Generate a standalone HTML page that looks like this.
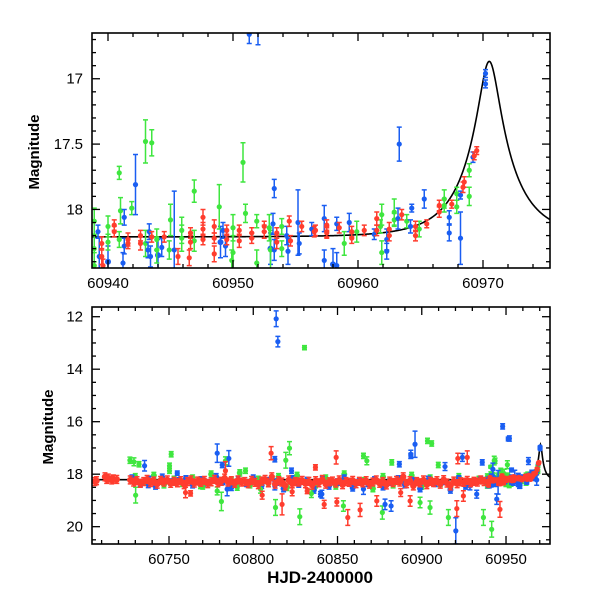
<!DOCTYPE html>
<html><head><meta charset="utf-8"><style>
html,body{margin:0;padding:0;background:#fff;}
svg{display:block;}
text{font-family:"Liberation Sans",sans-serif;}
</style></head><body>
<svg id="chart" width="600" height="600" viewBox="0 0 600 600" xmlns="http://www.w3.org/2000/svg">
<defs>
<clipPath id="clipTop"><rect x="92" y="33" width="458" height="235"/></clipPath>
<clipPath id="clipBot"><rect x="92" y="307" width="458" height="237"/></clipPath>
</defs>
</svg>
<script>
// ---- data ----
const redT=[60940.5,60940.5,60941.6,60941.6,60942.6,60942.6,60943.5,60944.5,60946.6,60946.6,60947.6,60947.6,60947.6,60948.5,60948.5,60948.5,60949.5,60949.5,60950.5,60950.5,60951.5,60951.5,60952.5,60952.5,60953.5,60953.5,60954.5,60954.6,60955.5,60956.6,60957.5,60939.5,60939.5,60939.6,60945.6,60946.5,
60969.5,60969.3,60968.5,60968.4,60967.5,60966.5,60966.5,60965.5,60964.6,60964.6,60963.5,60962.5,60962.5,60961.5,60961.5,60960.5,60959.5,60959.5,60958.5,60957.5,60957.5,60956.5,
60810.6,60817.1,60759.8,60762.8,60805.3,60823.1,60832.0,60783.5,60836.9,60849.2,60927.0,60921.4,60856.1,60863.4,60842.1,60849.6,60893.1,60920.8,60924.7,60946.4,60873.3,60887.5];
const redM=[18.12,18.17,18.23,18.26,18.20,18.26,18.21,18.21,18.18,18.25,18.06,18.15,18.23,18.13,18.22,18.34,18.16,18.23,18.16,18.24,18.18,18.22,18.13,18.17,18.18,18.25,18.09,18.24,18.13,18.16,18.17,18.26,18.36,18.43,18.36,18.37,
17.55,17.59,17.79,17.83,17.96,17.97,18.02,18.11,18.13,18.20,18.04,18.15,18.20,18.07,18.16,18.16,18.17,18.22,18.14,18.12,18.18,18.17,
17.20,19.15,18.70,18.73,18.80,18.67,18.64,17.87,17.74,17.36,17.36,17.40,19.65,19.36,19.15,19.06,19.02,19.31,18.83,19.34,19.02,18.70];
const redE=[0.04,0.04,0.05,0.04,0.04,0.05,0.04,0.04,0.04,0.05,0.06,0.05,0.04,0.05,0.04,0.06,0.04,0.04,0.04,0.05,0.04,0.04,0.04,0.05,0.04,0.05,0.04,0.04,0.04,0.04,0.04,0.05,0.06,0.05,0.06,0.06,
0.03,0.03,0.04,0.04,0.03,0.04,0.04,0.03,0.04,0.04,0.04,0.05,0.04,0.05,0.04,0.04,0.04,0.04,0.04,0.04,0.04,0.04,
0.25,0.4,0.2,0.1,0.15,0.15,0.1,0.35,0.1,0.25,0.25,0.2,0.3,0.25,0.15,0.15,0.2,0.3,0.2,0.3,0.2,0.15];
const redBandT=[60706,60707,60712,60713,60714,60716,60717,60719,
60727,60729,60731,60733,60735,60737,60739,60741,60743,60745,
60747,60749,60751,60753,60755,60757,60759,60761,60763,60765,
60767,60769,60771,60773,60775,60777,60779,60781,60783,60785,
60787,60789,60791,60793,60795,60797,60799,60801,60803,60805,
60807,60809,60811,60813,60815,60817,60819,60821,60823,60825,
60827,60829,60831,60833,60835,60837,60839,60841,60843,60845,
60847,60849,60851,60853,60855,60857,60859,60861,60863,60865,
60867,60869,60871,60873,60875,60877,60879,60881,60883,60885,
60887,60889,60891,60893,60895,60897,60899,60901,60903,60905,
60907,60909,60911,60913,60915,60917,60919,60921,60923,60925,
60927,60929,60931,60933,60935,60937];
const redBandM=[18.28,18.25,18.10,18.20,18.15,18.22,18.18,18.20,
18.22,18.30,18.25,18.35,18.28,18.20,18.32,18.26,18.38,18.24,
18.30,18.22,18.35,18.27,18.33,18.25,18.40,18.28,18.22,18.34,
18.26,18.31,18.24,18.36,18.29,18.20,18.33,18.27,18.15,18.30,
18.25,18.35,18.22,18.30,18.28,18.36,18.24,18.31,18.40,18.26,
18.20,18.33,18.10,18.38,18.25,18.30,18.45,18.22,18.35,18.28,
18.30,18.24,18.36,18.27,18.42,18.25,18.33,18.20,18.38,18.29,
18.26,18.34,18.22,18.40,18.28,18.31,18.24,18.36,18.27,18.33,
18.25,18.38,18.30,18.22,18.35,18.28,18.41,18.26,18.32,18.24,
18.30,18.10,18.36,18.25,18.45,18.28,18.33,18.22,18.40,18.27,
18.32,18.25,18.38,18.21,18.34,18.45,18.26,18.36,18.29,18.31,
18.24,18.33,18.27,18.30,18.22,18.28];

const blueT=[60951.3,60942.2,60953.3,60941.3,60955.2,60957.3,60939.2,60943.3,60944.3,60943.4,60943.2,60939.3,60941.2,60941.3,60945.3,60949.2,60949.4,60953.2,60954.3,60954.4,60955.3,60956.3,60957.3,60953.3,
60970.2,60970.2,60969.2,60963.3,60965.3,60964.3,60968.2,60967.3,60967.3,60968.2,60963.2,60962.3,60962.3,60964.2,60961.3,60959.3,60958.3,60958.3,
60813.6,60814.6,60778.6,60785.5,60781.6,60735.5,60784.5,60812.8,60812.8,60839.9,60754.9,60822.7,60737.7,60896.0,60893.5,60893.5,60948.0,60952.0,60935.9,60924.1,60920.2,60886.7,60913.8,60840.7,60865.4,60878.2,60881.8,60932.6,60944.5,60928.6];
const blueM=[16.66,17.81,17.84,18.06,18.10,18.07,18.17,18.17,18.29,18.36,18.31,18.36,18.41,18.28,18.31,18.16,18.28,18.11,18.20,18.32,18.26,18.15,18.39,18.31,
16.96,17.04,17.60,17.50,17.92,17.99,17.89,18.06,18.18,18.22,18.07,18.23,18.32,18.13,18.19,18.10,18.11,18.43,
12.08,12.95,17.20,17.40,17.65,17.68,18.57,17.43,18.45,18.76,17.96,17.87,18.41,16.86,17.30,17.24,16.18,16.64,17.55,17.36,20.16,17.62,17.71,18.76,18.57,19.15,19.21,18.76,18.95,18.45];
const blueE=[0.07,0.23,0.07,0.06,0.25,0.1,0.05,0.06,0.07,0.08,0.06,0.15,0.08,0.06,0.45,0.06,0.08,0.08,0.07,0.1,0.08,0.05,0.08,0.08,
0.03,0.03,0.04,0.13,0.07,0.03,0.03,0.05,0.06,0.2,0.08,0.08,0.06,0.05,0.04,0.07,0.05,0.1,
0.3,0.2,0.35,0.3,0.1,0.2,0.25,0.1,0.15,0.1,0.08,0.1,0.1,0.5,0.1,0.15,0.1,0.1,0.1,0.15,0.5,0.1,0.15,0.15,0.2,0.2,0.2,0.15,0.2,0.15];
const blueBandT=[60728,60733,60738,60742,60746,60751,60756,60760,60764,60769,60773,60778,60782,60787,60791,60796,60800,60805,60809,60814,60818,60823,60827,60832,60836,60841,60845,60850,60854,60859,60863,60868,60872,60877,60881,60886,60890,60895,60899,60904,60908,60913,60917,60922,60926,60931,60935,60940,60944,60949,60953,60958];
const blueBandM=[18.15,18.35,18.20,18.45,18.12,18.30,18.25,18.18,18.40,18.22,18.33,18.10,18.28,18.50,18.20,18.35,18.15,18.42,18.25,18.30,18.55,18.18,18.38,18.24,18.60,18.20,18.45,18.30,18.15,18.52,18.28,18.35,18.22,18.48,18.30,18.18,18.40,18.25,18.55,18.20,18.35,18.28,18.60,18.18,18.45,18.30,18.22,18.40,18.35,18.25,18.30,18.42];

const greenT=[60940.9,60943.0,60950.8,60946.9,60948.9,60941.0,60941.9,60951.0,60945.0,60938.9,60940.0,60945.9,60951.9,60950.0,60952.9,60953.9,60940.9,60940.0,60943.9,60946.9,60944.9,60943.9,60938.9,60945.9,60953.0,60953.9,60950.0,60949.9,60951.9,60943.0,60938.9,
60968.9,60968.9,60967.9,60967.9,60966.9,60966.9,60962.9,60962.9,60961.9,60961.8,60963.9,60964.9,60959.9,60958.9,60961.9,
60830.4,60751.3,60750.3,60750.3,60726.8,60729.2,60732.2,60730.2,60781.1,60783.5,60821.5,60819.3,60813.2,60827.6,60795.4,60804.3,60790.5,60768.7,60778.6,60834.5,60903.4,60905.9,60865.4,60867.4,60882.2,60909.8,60943.5,60915.8,60936.6,60941.5,60904.9,60899.0,60876.6,60853.5];
const greenM=[17.72,17.48,17.64,17.86,17.98,18.01,17.99,18.03,18.08,18.09,18.13,18.16,18.09,18.14,18.14,18.13,18.23,18.25,18.23,18.24,18.31,18.31,18.30,18.22,18.31,18.30,18.33,18.39,18.41,18.26,18.43,
17.70,17.90,17.88,17.98,17.92,17.97,18.02,18.08,18.04,18.13,18.09,18.15,18.17,18.26,18.33,
13.18,17.24,17.68,17.87,17.47,17.53,17.62,18.80,19.04,17.49,17.01,17.47,19.27,19.62,17.87,18.57,18.51,18.45,18.64,18.74,16.73,16.83,17.30,17.49,17.55,17.65,17.49,19.65,19.65,20.10,19.27,19.08,19.46,19.21];
const greenE=[0.05,0.165,0.15,0.085,0.17,0.1,0.05,0.07,0.12,0.1,0.08,0.1,0.05,0.1,0.1,0.06,0.06,0.06,0.08,0.08,0.07,0.1,0.1,0.1,0.15,0.06,0.13,0.08,0.1,0.1,0.1,
0.05,0.07,0.05,0.05,0.07,0.05,0.1,0.05,0.08,0.05,0.05,0.06,0.08,0.09,0.09,
0.08,0.1,0.1,0.1,0.12,0.15,0.1,0.3,0.35,0.15,0.25,0.3,0.3,0.3,0.1,0.15,0.1,0.1,0.15,0.15,0.1,0.1,0.1,0.15,0.1,0.1,0.1,0.3,0.3,0.3,0.25,0.2,0.25,0.2];
const greenBandT=[60730,60736,60741,60747,60753,60758,60764,60770,60775,60781,60787,60792,60798,60803,60809,60815,60820,60826,60832,60837,60843,60849,60854,60860,60866,60871,60877,60883,60888,60894,60900,60905,60911,60917,60922,60928,60934];
const greenBandM=[18.10,18.30,18.05,18.40,18.20,18.35,18.15,18.45,18.00,18.30,18.25,17.95,18.40,18.20,18.35,18.10,18.50,18.05,18.30,18.40,18.15,18.45,18.00,18.35,18.25,18.55,18.10,18.40,18.20,18.05,18.45,18.15,18.35,18.50,18.10,18.30,18.20];

const topXTicks=[60940,60950,60960,60970];
const topYTicks=[17,17.5,18];
const botXTicks=[60750,60800,60850,60900,60950];
const botYTicks=[12,14,16,18,20];

// model parameters (microlensing fit)
const modelBase=18.21, modelT0=60970.5, modelTE=4.0, modelU0=0.2, modelFs=0.6;

// ---- layout ----
const svg=document.getElementById('chart');
const NS='http://www.w3.org/2000/svg';
const COL={red:'#ff3d2e',blue:'#1a5ef2',green:'#3fe63f'};
function mk(tag,attrs,parent){const e=document.createElementNS(NS,tag);for(const k in attrs)e.setAttribute(k,attrs[k]);(parent||svg).appendChild(e);return e;}

const panels=[
 {key:'top',x0:92,x1:550,y0:33,y1:268,tmin:60938.72,tmax:60975.36,mtop:16.65,mbot:18.448,clip:'clipTop',
  xt:topXTicks,xminor:2,yt:topYTicks,yminor:0.1,ylabelX:34,ylabelY:152,band:false},
 {key:'bottom',x0:92,x1:550,y0:307,y1:544,tmin:60704.3,tmax:60976.1,mtop:11.63,mbot:20.66,clip:'clipBot',
  xt:botXTicks,xminor:10,yt:botYTicks,yminor:0.5,ylabelX:48,ylabelY:427,band:true}
];

function model(t){
  const tau=(t-modelT0)/modelTE;
  const u=Math.sqrt(modelU0*modelU0+tau*tau);
  const A=(u*u+2)/(u*Math.sqrt(u*u+4));
  const F=modelFs*A+(1-modelFs);
  return modelBase-2.5*Math.log10(F);
}

panels.forEach(p=>{
  const sx=t=>p.x0+(t-p.tmin)/(p.tmax-p.tmin)*(p.x1-p.x0);
  const sy=m=>p.y0+(m-p.mtop)/(p.mbot-p.mtop)*(p.y1-p.y0);
  const g=mk('g',{'clip-path':'url(#'+p.clip+')'});
  
  

  let d='';
  for(let px=p.x0;px<=p.x1;px+=0.5){
    const t=p.tmin+(px-p.x0)/(p.x1-p.x0)*(p.tmax-p.tmin);
    d+=(d?'L':'M')+px.toFixed(2)+','+sy(model(t)).toFixed(2);
  }
  const curve=mk('path',{d:d,fill:'none',stroke:'#000','stroke-width':1.6},g);
  
  

  function series(T,M,E,col,name,fixedE,r){
    const sg=mk('g',{},g);
    
    
    for(let i=0;i<T.length;i++){
      const x=sx(T[i]), y=sy(M[i]);
      const e=E?E[i]:fixedE;
      const ya=sy(M[i]-e), yb=sy(M[i]+e);
      mk('path',{d:`M${x},${ya}V${yb}M${x-2.5},${ya}H${x+2.5}M${x-2.5},${yb}H${x+2.5}`,stroke:col,'stroke-width':1.5,fill:'none'},sg);
      const c=mk('circle',{cx:x,cy:y,r:r||2.6,fill:col},sg);
      
      
    }
  }
  series(greenBandT,greenBandM,null,COL.green,'green-band',0.12,3);
  series(blueBandT,blueBandM,null,COL.blue,'blue-band',0.12,3);
  series(greenT,greenM,greenE,COL.green,'green');
  series(blueT,blueM,blueE,COL.blue,'blue');
  series(redBandT,redBandM,null,COL.red,'red-band',0.15,3.2);
  series(redT,redM,redE,COL.red,'red');

  const fr=mk('rect',{x:p.x0,y:p.y0,width:p.x1-p.x0,height:p.y1-p.y0,fill:'none',stroke:'#000','stroke-width':1.6});
  
  

  const tg=mk('g',{stroke:'#000','stroke-width':1.3});
  
  
  const tStart=Math.ceil(p.tmin/p.xminor)*p.xminor;
  for(let t=tStart;t<=p.tmax;t+=p.xminor){
    const x=sx(t);
    const major=p.xt.some(v=>Math.abs(v-t)<1e-6);
    const L=major?8:4;
    mk('line',{x1:x,y1:p.y1,x2:x,y2:p.y1-L},tg);
    mk('line',{x1:x,y1:p.y0,x2:x,y2:p.y0+L},tg);
  }
  const mStart=Math.ceil(p.mtop/p.yminor-1e-6)*p.yminor;
  for(let m=mStart;m<=p.mbot+1e-9;m+=p.yminor){
    const y=sy(m);
    const major=p.yt.some(v=>Math.abs(v-m)<1e-6);
    const L=major?8:4;
    mk('line',{x1:p.x0,y1:y,x2:p.x0+L,y2:y},tg);
    mk('line',{x1:p.x1,y1:y,x2:p.x1-L,y2:y},tg);
  }
  p.xt.forEach(v=>{
    const tx=mk('text',{x:sx(v),y:p.y1+20,'text-anchor':'middle','font-size':15,fill:'#000'});
    tx.textContent=String(v);
    
    
  });
  p.yt.forEach(v=>{
    const tx=mk('text',{x:83,y:sy(v)+5,'text-anchor':'end','font-size':15,fill:'#000'});
    tx.textContent=String(v);
    
    
  });
  const yl=mk('text',{x:p.ylabelX,y:p.ylabelY,'text-anchor':'middle','font-size':15,'font-weight':'bold',fill:'#000',transform:`rotate(-90 ${p.ylabelX} ${p.ylabelY})`,dy:5});
  yl.textContent='Magnitude';
  
  
});

const xt=mk('text',{x:320,y:583,'text-anchor':'middle','font-size':17,'font-weight':'bold',fill:'#000','font-family':'Liberation Mono, monospace'});
xt.textContent='HJD-2400000';


</script>
</body></html>
